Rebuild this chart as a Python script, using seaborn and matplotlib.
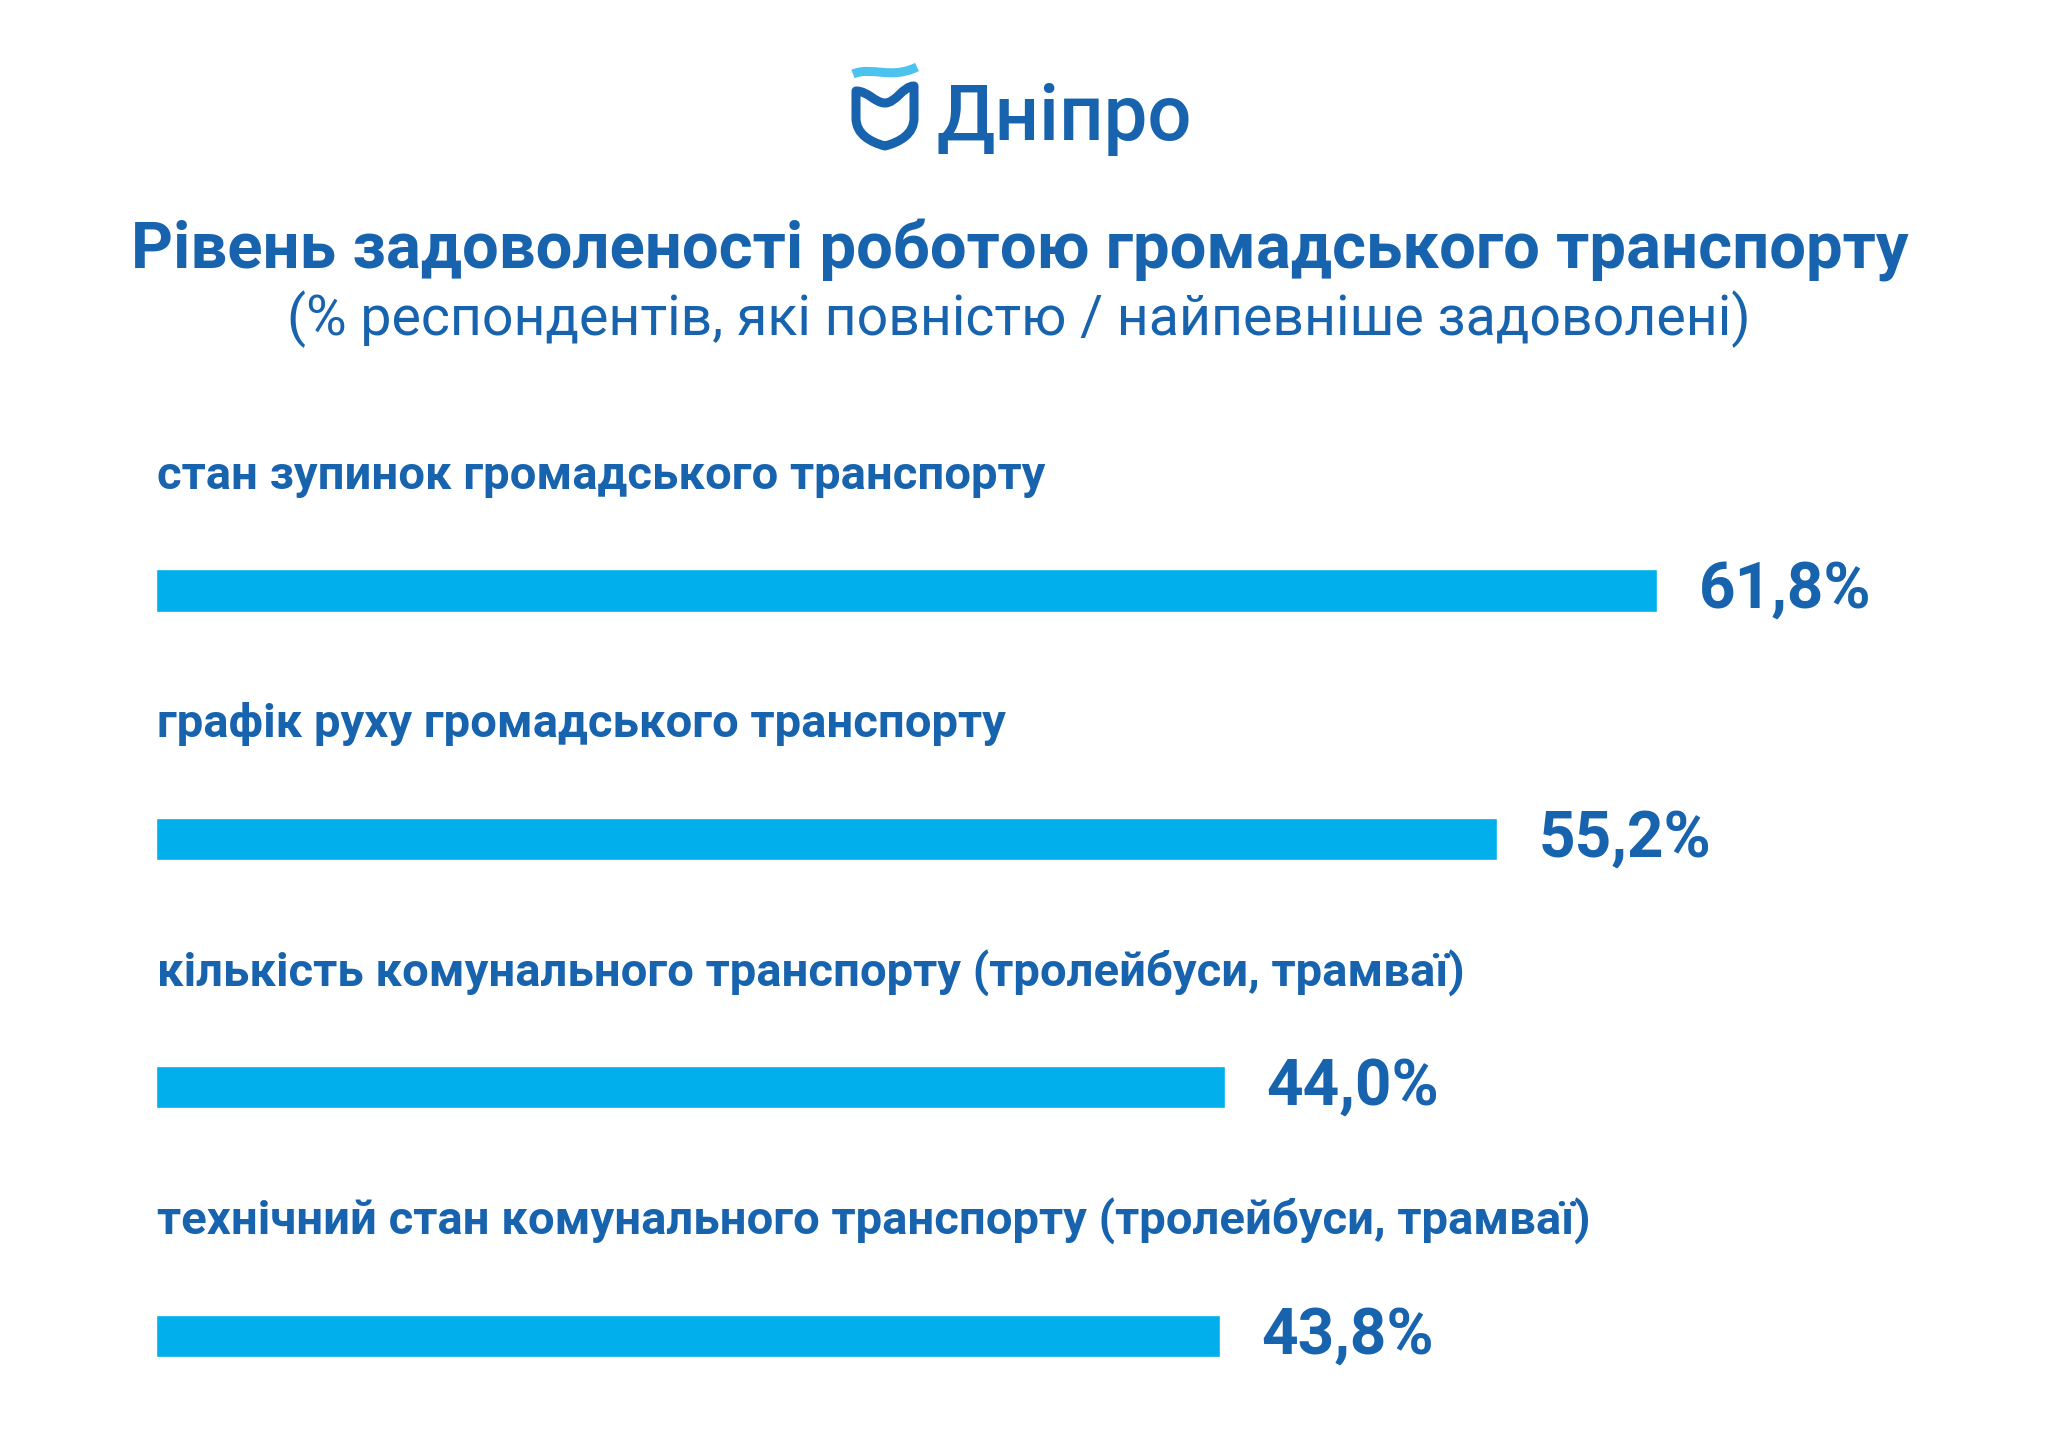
import pandas as pd
import seaborn as sns
import matplotlib.pyplot as plt
from matplotlib.path import Path
from matplotlib.patches import PathPatch

categories = [
    "стан зупинок громадського транспорту",
    "графік руху громадського транспорту",
    "кількість комунального транспорту (тролейбуси, трамваї)",
    "технічний стан комунального транспорту (тролейбуси, трамваї)",
]
values = [61.8, 55.2, 44.0, 43.8]
value_labels = [f"{v:.1f}%".replace(".", ",") for v in values]

title = "Рівень задоволеності роботою громадського транспорту"
subtitle = "(% респондентів, які повністю / найпевніше задоволені)"
brand = "Дніпро"

DARK = "#1763ae"
BAR = "#00afeb"
LIGHT = "#4cc2ee"

sns.set_theme(style="white")
plt.rcParams["font.family"] = ["Roboto", "DejaVu Sans"]

df = pd.DataFrame({"category": categories, "value": values})

fig = plt.figure(figsize=(20.48, 14.48), dpi=100)
fig.patch.set_facecolor("white")

# main bar axes
ax = fig.add_axes([156 / 2048, 13 / 1448, 1822 / 2048, 1093 / 1448])
sns.barplot(data=df, x="value", y="category", orient="h", color=BAR,
            saturation=1, width=0.17, ax=ax)
ax.set_xlim(0, 75)
ax.set_ylim(3.4, -1.0)
ax.axis("off")

for i, cat in enumerate(categories):
    ax.text(0.05, i - 0.41, cat, ha="left", va="baseline", fontsize=34,
            fontweight="bold", color=DARK)

ax.bar_label(ax.containers[0], labels=value_labels, padding=30, fontsize=46,
             fontweight="bold", color=DARK)

# header overlay in pixel coords
ov = fig.add_axes([0, 0, 1, 1])
ov.set_xlim(0, 2048)
ov.set_ylim(1448, 0)
ov.axis("off")

ov.text(1020, 268, title, ha="center", va="baseline", fontsize=47,
        fontweight="bold", color=DARK)
ov.text(1019, 335, subtitle, ha="center", va="baseline", fontsize=40,
        color=DARK)

# city logo: wave + shield
wave = Path([(853, 74), (872, 66), (890, 80), (917, 67)],
            [Path.MOVETO, Path.CURVE4, Path.CURVE4, Path.CURVE4])
ov.add_patch(PathPatch(wave, facecolor="none", edgecolor=LIGHT, lw=6.5,
                       capstyle="butt"))
shield = Path(
    [(856, 91), (868, 91), (875, 103), (885, 103), (896, 103), (903, 86),
     (914, 86), (914, 118), (914, 134), (900, 142), (885, 146), (870, 142),
     (856, 134), (856, 118), (856, 91)],
    [Path.MOVETO, Path.CURVE4, Path.CURVE4, Path.CURVE4, Path.CURVE4,
     Path.CURVE4, Path.CURVE4, Path.LINETO, Path.CURVE4, Path.CURVE4,
     Path.CURVE4, Path.CURVE4, Path.CURVE4, Path.CURVE4, Path.CLOSEPOLY])
ov.add_patch(PathPatch(shield, facecolor="none", edgecolor=DARK, lw=6.5,
                       joinstyle="round"))
ov.text(936, 140, brand, ha="left", va="baseline", fontsize=56,
        fontweight="medium", color=DARK)

fig.savefig("out.png", dpi=100, facecolor="white")
